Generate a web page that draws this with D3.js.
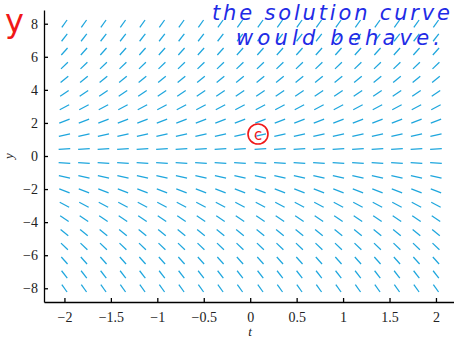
<!DOCTYPE html>
<html>
<head>
<meta charset="utf-8">
<script src="https://cdn.jsdelivr.net/npm/d3@7"></script>
<style>
  body { margin: 0; background: #fff; }
  svg { display: block; }
</style>
</head>
<body>
<svg id="chart" width="454" height="340"></svg>
<script>
// grid of the slope field (t columns, y rows)
const tCols = [-2, -1.79, -1.58, -1.37, -1.16, -0.95, -0.74, -0.53, -0.32, -0.11,
  0.11, 0.32, 0.53, 0.74, 0.95, 1.16, 1.37, 1.58, 1.79, 2];
const yRows = [-8, -7.16, -6.32, -5.47, -4.63, -3.79, -2.95, -2.11, -1.26, -0.42,
  0.42, 1.26, 2.11, 2.95, 3.79, 4.63, 5.47, 6.32, 7.16, 8];
// dy/dt
const slopes = [-8, -7.16, -6.32, -5.47, -4.63, -3.79, -2.95, -2.11, -1.26, -0.42,
  0.42, 1.26, 2.11, 2.95, 3.79, 4.63, 5.47, 6.32, 7.16, 8];
const xTicks = [-2, -1.5, -1, -0.5, 0, 0.5, 1, 1.5, 2];
const yTicks = [-8, -6, -4, -2, 0, 2, 4, 6, 8];

const svg = d3.select("svg#chart");
const x = d3.scaleLinear().domain([-2.22, 2.22]).range([44, 456.4]);
const y = d3.scaleLinear().domain([-8.83, 8.83]).range([302, 10]);

// segments: centred on the grid point, normalised in range-scaled space
const half = 0.063;
const segs = [];
yRows.forEach((yv, i) => {
  const s = slopes[i];
  const dt = half / Math.sqrt(1 + (s * 4 / 16) ** 2);
  tCols.forEach((t) => segs.push({ t, yv, dt, dy: s * dt }));
});

svg.append("g")
  .selectAll("line")
  .data(segs)
  .join("line")
  .attr("x1", (d) => x(d.t - d.dt))
  .attr("y1", (d) => y(d.yv - d.dy))
  .attr("x2", (d) => x(d.t + d.dt))
  .attr("y2", (d) => y(d.yv + d.dy))
  .attr("stroke", "#1ea6dd")
  .attr("stroke-width", 1.25);

const serif = "'Liberation Serif', 'DejaVu Serif', serif";
const fmt = d3.format("");
const gx = svg.append("g")
  .attr("transform", `translate(0, 302)`)
  .call(d3.axisBottom(x).tickValues(xTicks).tickFormat(fmt)
    .tickSize(-4).tickSizeOuter(0).tickPadding(10));
const gy = svg.append("g")
  .attr("transform", `translate(44, 0)`)
  .call(d3.axisLeft(y).tickValues(yTicks).tickFormat(fmt)
    .tickSize(-4).tickSizeOuter(0).tickPadding(6));

[gx, gy].forEach((g) => {
  g.attr("font-family", serif).attr("font-size", 14);
  g.select(".domain").attr("stroke", "#000").attr("stroke-width", 1.3);
  g.selectAll(".tick line").attr("stroke", "#000").attr("stroke-width", 1.3);
  g.selectAll("text").attr("fill", "#222");
});

svg.append("text")
  .attr("x", 250).attr("y", 336)
  .attr("text-anchor", "middle")
  .attr("font-family", serif)
  .attr("font-style", "italic")
  .attr("font-size", 13)
  .attr("fill", "#222")
  .text("t");

svg.append("text")
  .attr("transform", "translate(13, 156) rotate(-90)")
  .attr("text-anchor", "middle")
  .attr("font-family", serif)
  .attr("font-style", "italic")
  .attr("font-size", 13)
  .attr("fill", "#222")
  .text("y");

// hand-written notes
const hand = "'DejaVu Sans', sans-serif";
svg.append("text")
  .attr("x", 5).attr("y", 32)
  .attr("font-family", hand)
  .attr("font-size", 32)
  .attr("fill", "#f01818")
  .text("y");

svg.append("text")
  .attr("x", 212).attr("y", 20)
  .attr("textLength", 238).attr("lengthAdjust", "spacing")
  .attr("font-family", hand)
  .attr("font-style", "italic")
  .attr("font-size", 21)
  .attr("fill", "#1f2ce6")
  .text("the solution curve");

svg.append("text")
  .attr("x", 236).attr("y", 45)
  .attr("textLength", 204).attr("lengthAdjust", "spacing")
  .attr("font-family", hand)
  .attr("font-style", "italic")
  .attr("font-size", 21)
  .attr("fill", "#1f2ce6")
  .text("would behave.");

svg.append("ellipse")
  .attr("cx", 258).attr("cy", 134)
  .attr("rx", 10).attr("ry", 10)
  .attr("fill", "none")
  .attr("stroke", "#f01818")
  .attr("stroke-width", 1.6);
svg.append("text")
  .attr("x", 258).attr("y", 140)
  .attr("text-anchor", "middle")
  .attr("font-family", hand)
  .attr("font-size", 15)
  .attr("fill", "#f01818")
  .text("c");
</script>
</body>
</html>
